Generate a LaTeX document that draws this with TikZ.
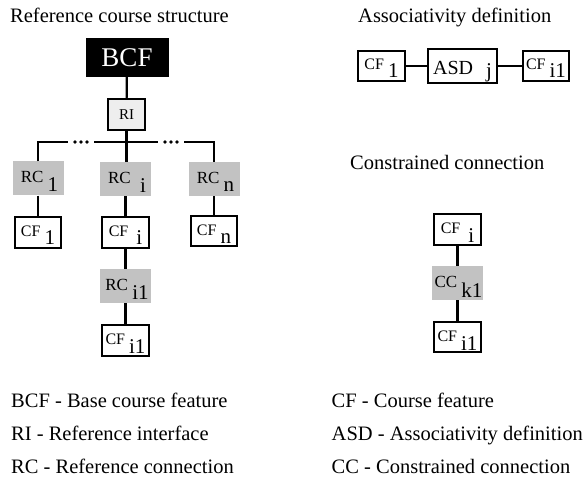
\documentclass[tikz,border=0pt]{standalone}
\usepackage{fontspec}
\setmainfont{Liberation Serif}
% label with a small main part and a larger, lowered index
% #1 main size, #2 main text, #3 index size, #4 drop, #5 index
\newcommand\sublab[5]{{\fontsize{#1}{#1}\selectfont #2\ }\raisebox{-#4}{\fontsize{#3}{#3}\selectfont #5}}
\definecolor{rcgray}{HTML}{C2C2C2}
\definecolor{rigray}{HTML}{EEEEEE}
\begin{document}
\begin{tikzpicture}[x=1pt,y=-1pt,
  wire/.style={line width=2.2pt},
  heading/.style={anchor=base west, inner sep=0, font=\fontsize{20.5}{24}\selectfont},
  legend/.style={anchor=base west, inner sep=0, font=\fontsize{20.5}{24}\selectfont},
  cfbox/.style={draw, line width=2.3pt, fill=white, minimum width=46.5pt, minimum height=30.5pt,
    inner sep=0, text height=8pt, text depth=0pt},
  rcbox/.style={fill=rcgray, minimum width=51pt, minimum height=34pt,
    inner sep=0, text height=9pt, text depth=0pt},
  asdbox/.style={draw, line width=2.3pt, fill=white, minimum width=68.5pt, minimum height=34.5pt,
    inner sep=0, text height=17pt, text depth=0pt},
  ribox/.style={draw, line width=2.3pt, fill=rigray, minimum width=36.5pt, minimum height=30.5pt,
    inner sep=0, text height=9.5pt, text depth=0pt, font=\fontsize{15}{15}\selectfont},
  bcfbox/.style={fill=black, text=white, minimum width=83pt, minimum height=39pt,
    inner sep=0, text height=18.4pt, text depth=0pt, font=\fontsize{27}{27}\selectfont},
  dotgap/.style={inner sep=0, minimum width=26pt, minimum height=4pt,
    path picture={\fill (path picture bounding box.center) circle (1.9pt)
      ++(-6pt,0) circle (1.9pt) ++(12pt,0) circle (1.9pt);}}
]
\useasboundingbox (0,0) rectangle (586,489);

% headings
\node[heading] (h1) at (10,23) {Reference course structure};
\node[heading] (h2) at (358,23) {Associativity definition};
\node[heading] (h3) at (350,170) {Constrained connection};

% reference course structure
\node[bcfbox] (bcf) at (127,57.5) {BCF};
\node[ribox] (ri) at (126.5,114.5) {RI};
\node[dotgap] (dl) at (81,142) {};
\node[dotgap] (dr) at (171,142) {};
\node[rcbox] (rc1) at (38,178.5) {\hspace{3pt}\sublab{17}{RC}{21}{9pt}{1}};
\node[rcbox] (rci) at (125.5,179) {\hspace{3pt}\sublab{17}{RC}{21}{9pt}{\hspace{5pt}i}};
\node[rcbox] (rcn) at (214,179) {\hspace{3pt}\sublab{17}{RC}{21}{8.5pt}{n}};
\node[cfbox] (cf1) at (38,232.5) {\sublab{16}{CF}{21}{8.5pt}{1}};
\node[cfbox] (cfi) at (125.5,232.5) {\sublab{16}{CF}{21}{8.5pt}{\hspace{4pt}i}};
\node[cfbox] (cfn) at (214,231) {\sublab{16}{CF}{21}{8.5pt}{n}};
\node[rcbox] (rci1) at (125.5,286) {\hspace{3pt}\sublab{17}{RC}{21}{8.5pt}{i1}};
\node[cfbox] (cfi1) at (125.5,340.5) {\sublab{16}{CF}{21}{9pt}{i1}};

\draw[wire] (bcf) -- (ri);
\draw[wire] (ri.south) -- (ri.south |- rci.north);
\draw[wire] (rc1.north) |- (dl.west);
\draw[wire] (dl.east) -- (dr.west);
\draw[wire] (dr.east) -| (rcn.north);
\draw[wire] (rc1) -- (cf1);
\draw[wire] (rci) -- (cfi);
\draw[wire] (rcn) -- (cfn);
\draw[wire] (cfi) -- (rci1);
\draw[wire] (rci1) -- (cfi1);

% associativity definition
\node[cfbox] (acf1) at (381.5,66) {\sublab{16}{CF}{21}{8pt}{1}};
\node[asdbox] (asd) at (462.5,66) {\sublab{20}{ASD}{21}{3.5pt}{\hspace{8pt}j}};
\node[cfbox] (acfi1) at (546,66) {\sublab{16}{CF}{21}{8pt}{i1}};
\draw[wire] (acf1) -- (asd);
\draw[wire] (asd) -- (acfi1);

% constrained connection
\node[cfbox] (ccf) at (457.5,229.5) {\sublab{16}{CF}{21}{9pt}{\hspace{4pt}i}};
\node[rcbox] (cck) at (457.5,283) {\hspace{2pt}\sublab{17}{CC}{21}{10pt}{k1}};
\node[cfbox] (ccfi1) at (457.5,337) {\sublab{16}{CF}{21}{9pt}{i1}};
\draw[wire] (ccf) -- (cck);
\draw[wire] (cck) -- (ccfi1);

% legend
\node[legend] (l1) at (11,407.5) {BCF - Base course feature};
\node[legend] (l2) at (11,440.5) {RI - Reference interface};
\node[legend] (l3) at (11,473.5) {RC - Reference connection};
\node[legend] (l4) at (331.5,407.5) {CF - Course feature};
\node[legend] (l5) at (331.5,440.5) {ASD - Associativity definition};
\node[legend] (l6) at (331.5,473.5) {CC - Constrained connection};
\end{tikzpicture}
\end{document}
